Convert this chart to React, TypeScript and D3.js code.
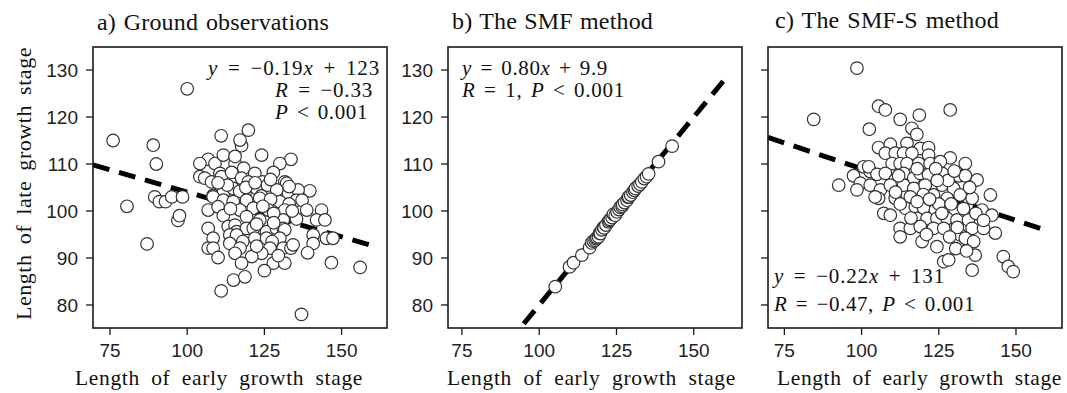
import React, { useLayoutEffect, useRef } from "react";
import * as d3 from "d3";

// Axis ticks shared by the three panels
const xTicks = [75, 100, 125, 150];
const yTicks = [80, 90, 100, 110, 120, 130];
const yDomain: [number, number] = [75.1, 134.9];

const panelTitles = ["a) Ground observations", "b) The SMF method", "c) The SMF-S method"];
const xAxisTitle = "Length of early growth stage";
const yAxisTitle = "Length of late growth stage";

// Ground observations: [early length, late length]
const groundPoints: [number, number][] = [
  [76, 115], [80.5, 101], [87, 93], [89, 114], [90, 110], [89.5, 103], [91, 102], [93, 102],
  [95, 103], [97, 98], [97.5, 99], [98.5, 103], [100, 126],
  [111, 116], [119.8, 117.2], [117.6, 113.9], [117.1, 115.1], [124.1, 111.9], [133.6, 111],
  [130, 110.1], [106.8, 111], [104.1, 110.1], [109, 110.1], [111.7, 111.9], [115.5, 110.1],
  [115.5, 111.6], [118.3, 109.1],
  [104.1, 107.3], [105.7, 107], [107.9, 106.2], [110.6, 108], [111.1, 107.3], [114.4, 108.2],
  [117.6, 107], [121.9, 108], [124.4, 106.2], [127.9, 108.2], [131.6, 106.2], [119.8, 106.2],
  [132.2, 105.9],
  [108.4, 103.3], [111.7, 103.8], [114.9, 104.8], [118.7, 103.8], [122.5, 104.8], [126.8, 103.8],
  [132.8, 103.8], [136, 104.3], [139.7, 104.3], [135.9, 104.5], [113, 105.5], [117, 104.2],
  [119, 105], [122, 106], [126, 105.5], [129, 104.5], [133, 105.2], [127, 106.7], [124, 103.2],
  [110, 106],
  [108.4, 103], [111.7, 102.3], [114.9, 102], [119.2, 102.3], [123.5, 102.7], [130, 102],
  [135.4, 102.3], [137.2, 102.3], [127, 102.5], [133, 101.5],
  [106.8, 100.2], [110, 100.9], [111.7, 99], [117.1, 100.2], [121.4, 100.6], [126.3, 100.2],
  [131.6, 100.2], [138.7, 100.2], [143.5, 100.2], [119.2, 98.8], [123.5, 98.1], [131.1, 98.1],
  [135.4, 98.3], [141.9, 98.1], [144.6, 98.1], [128, 99.5], [124.5, 101], [114, 100.5], [134, 100],
  [106.8, 96.3], [113.3, 96.7], [115.5, 97], [116, 95.6], [119.2, 96.3], [121.4, 96.3],
  [125.7, 95.6], [128.9, 96.3], [131.1, 96.3], [131.6, 96], [128, 97.5], [122.5, 97.2],
  [108.4, 94.2], [113.8, 94.9], [116, 94.9], [121.9, 94.2], [125.7, 94.2], [130, 94.2],
  [140.8, 94.9], [145.1, 94.2], [147.2, 94.2], [118, 93.5], [127.5, 93.5],
  [106.8, 92.1], [108.4, 92.1], [113.8, 93.1], [117.1, 92.1], [126.8, 92.1], [131.1, 92.1],
  [133.6, 92.1], [134.3, 92.8], [140.8, 93.1], [115.5, 91], [124.1, 91], [120.9, 90.3],
  [139, 91.1], [122.5, 92.5],
  [110, 90.1], [117.6, 88.9], [127.9, 88.9], [131.6, 88.9], [146.7, 89], [156, 88], [129.5, 90.5],
  [111, 83], [115, 85.3], [118.7, 86], [125, 87.3], [137, 78],
];

// SMF estimates
const smfPoints: [number, number][] = [
  [105.2, 83.9], [109.8, 88.1], [111.1, 89], [113.8, 90.6], [116.3, 92.2], [117, 93.2],
  [117.5, 93.6], [118.1, 93.8], [118.4, 94.1], [118.7, 94.3], [119.2, 94.5], [119.5, 95.3],
  [119.8, 95.2], [120.3, 96], [120.8, 96.5], [121, 96.4], [121.6, 97], [122.4, 97.7],
  [122.7, 98], [123, 98.2], [123.6, 98.6], [124, 99.3], [124.6, 99.1], [125.2, 99.8],
  [125.8, 100.3], [126.2, 100.8], [126.8, 101], [127, 101.4], [127.6, 101.8], [128.4, 102.3],
  [128.8, 102.9], [129, 103], [129.6, 103.4], [130.3, 104], [130.8, 104.4], [131.1, 104.8],
  [132, 105.3], [132.6, 105.7], [133.2, 106.2], [134, 106.9], [134.7, 107.3], [135.4, 107.9],
  [138.6, 110.5], [143, 113.8],
];

// SMF-S estimates
const smfsPoints: [number, number][] = [
  [98.5, 130.4], [84.5, 119.5], [105.5, 122.3], [107.7, 121.5], [112.5, 119.5], [118.7, 120.4],
  [128.7, 121.5], [102.5, 117.4], [116.3, 117.6], [117.9, 116.3], [92.6, 105.5],
  [105.5, 113.5], [109.3, 114.2], [114.7, 114.4], [119, 113.3], [121.7, 113.5],
  [107.7, 112.3], [110.9, 112.3], [113.6, 112.3], [116.3, 112.3], [121.7, 111.9], [128.7, 111.3],
  [133.6, 110.1], [109.9, 110.1], [112.5, 110.1], [114.7, 110.1], [118.5, 110.1], [122.2, 110.1],
  [125.5, 110.5],
  [100.7, 109.4], [102.8, 108.4], [102.3, 109.4], [97.4, 107.5], [99.6, 105.9], [105, 107.8],
  [107.7, 108], [110.9, 106.6], [113.6, 108], [116.9, 107], [119, 108], [121.7, 107.7],
  [126.1, 108], [131.5, 107.5], [133.6, 107.5], [137.4, 106.6],
  [98.5, 104.5], [102.8, 105.5], [106.1, 104.5], [109.3, 105.5], [113.6, 105.5], [116.9, 104.8],
  [120.6, 105.5], [126.1, 105.5], [129.8, 104.8], [135.8, 102.7], [141.7, 103.4],
  [105.5, 102.7], [110.9, 102.7], [115.8, 103], [123.3, 103.4], [127.7, 102.7], [131.9, 103.4],
  [104.4, 103],
  [107.2, 99.5], [109.3, 99.1], [114.2, 100.6], [117.4, 100.9], [120.1, 100.6], [123.9, 100.2],
  [127.1, 100.6], [130.3, 100.2], [139, 100.2], [142.2, 99.1],
  [117.9, 98.4], [121.2, 98.4], [124.4, 98.4], [127.7, 98.4], [130.9, 98.1], [134.6, 98.1],
  [112.5, 96.3], [115.8, 96.3], [119, 96.7], [123.3, 96.3], [126.6, 96.3], [135.8, 96.3],
  [139.5, 96.3], [143.3, 95.3],
  [112.5, 94.5], [119.6, 93.5], [124.4, 92.4], [132, 94.9], [133.6, 94.2], [136.3, 93.5],
  [126.6, 89.2], [128.2, 89.6], [136.8, 90.6], [135.8, 87.4], [145.9, 90.3], [147.5, 88.2],
  [149.1, 87.1],
  [112, 107.5], [118, 109], [124, 109], [128, 106.5], [120, 103.5], [125, 101.5], [129, 101.5],
  [133, 100.5], [137, 99.5], [118, 102], [122, 102.5], [112.5, 101.5], [111, 104], [126, 99.5],
  [131, 96.5], [128.5, 94.5], [121, 95], [116, 98.5], [124.5, 106.5], [130, 108.5], [135, 105],
  [139.5, 98], [130.5, 92], [134, 91.5],
];

// Fitted lines: slope, intercept and the x span they cover
const fitSlopes = [-0.19, 0.8, -0.22];
const fitIntercepts = [123, 0, 131];
const fitSpans: [number, number][] = [[69.5, 160], [95, 160.2], [69.7, 158.4]];

type Seg = [string, boolean];
interface EqLine { x: number; y: number; len: number; parts: Seg[] }

const MINUS = "\u2212";
const equations: EqLine[][] = [
  [
    { x: 208, y: 75, len: 172, parts: [["y", true], [" = " + MINUS + "0.19", false], ["x", true], [" + 123", false]] },
    { x: 275, y: 97, len: 98, parts: [["R", true], [" = " + MINUS + "0.33", false]] },
    { x: 275, y: 119, len: 93, parts: [["P", true], [" < 0.001", false]] },
  ],
  [
    { x: 462, y: 75, len: 146, parts: [["y", true], [" = 0.80", false], ["x", true], [" + 9.9", false]] },
    { x: 462, y: 97, len: 163, parts: [["R", true], [" = 1, ", false], ["P", true], [" < 0.001", false]] },
  ],
  [
    { x: 774, y: 283, len: 171, parts: [["y", true], [" = " + MINUS + "0.22", false], ["x", true], [" + 131", false]] },
    { x: 774, y: 311, len: 201, parts: [["R", true], [" = " + MINUS + "0.47, ", false], ["P", true], [" < 0.001", false]] },
  ],
];

const panelLefts = [93, 448, 768];
const panelWidth = 294;
const plotTop = 47;
const plotBottom = 328;
const xDomains: [number, number][] = [[69.5, 164.7], [70.5, 165.6], [69.7, 164.9]];
const titleBoxes = [
  { x: 97, len: 232, y: 30 },
  { x: 452, len: 201, y: 29 },
  { x: 775, len: 224, y: 28 },
];
const xTitleBoxes = [
  { x: 75, len: 288 },
  { x: 447, len: 289 },
  { x: 777, len: 285 },
];

const serif = "'Liberation Serif', 'Times New Roman', serif";
const sans = "'Liberation Sans', Arial, sans-serif";
const ink = "#1a1a1a";

// Text stretched to a given width: half the slack goes between letters, half between words
function SpacedText(props: {
  x?: number; y?: number; width: number; size: number; transform?: string;
  anchor?: string; children: React.ReactNode;
}) {
  const ref = useRef<SVGTextElement>(null);
  useLayoutEffect(() => {
    const el = ref.current;
    if (!el) return;
    el.style.wordSpacing = "0px";
    el.style.letterSpacing = "0px";
    const natural = el.getComputedTextLength();
    const txt = el.textContent || "";
    const gaps = txt.split(" ").length - 1;
    const extra = props.width - natural;
    if (extra <= 0) return;
    const ls = (extra * 0.45) / Math.max(1, txt.length - 1);
    el.style.letterSpacing = `${ls}px`;
    const after = el.getComputedTextLength();
    if (gaps > 0) el.style.wordSpacing = `${(props.width - after) / gaps}px`;
  });
  return (
    <text
      ref={ref}
      x={props.x}
      y={props.y}
      transform={props.transform}
      textAnchor={props.anchor || "start"}
      fontFamily={serif}
      fontSize={props.size}
      fill="#111"
    >
      {props.children}
    </text>
  );
}

function Panel({ idx, points }: { idx: number; points: [number, number][] }) {
  const left = panelLefts[idx];
  const x = d3.scaleLinear().domain(xDomains[idx]).range([left, left + panelWidth]);
  const y = d3.scaleLinear().domain(yDomain).range([plotBottom, plotTop]);
  const [x0, x1] = fitSpans[idx];
  const f = (v: number) => fitSlopes[idx] * v + fitIntercepts[idx];
  const fitPath = d3.line<number>().x((v) => x(v)).y((v) => y(f(v)))([x0, x1]) || "";
  const tb = titleBoxes[idx];
  const xt = xTitleBoxes[idx];

  return (
    <g>
      <SpacedText x={tb.x} y={tb.y} width={tb.len} size={24}>
        {panelTitles[idx]}
      </SpacedText>

      <path d={fitPath} stroke="#000" strokeWidth={5} strokeDasharray="17,10" fill="none" />

      {points.map(([px, py], i) => (
        <circle key={i} cx={x(px)} cy={y(py)} r={6.3} fill="#fff" stroke="#333" strokeWidth={1.2} />
      ))}

      <rect x={left} y={plotTop} width={panelWidth} height={plotBottom - plotTop} fill="none" stroke={ink} strokeWidth={1.6} />

      {yTicks.map((t) => (
        <g key={"y" + t}>
          <line x1={left - 7} x2={left} y1={y(t)} y2={y(t)} stroke={ink} strokeWidth={1.3} />
          {idx < 2 && (
            <text x={left - 15} y={y(t) + 7} textAnchor="end" fontFamily={sans} fontSize={19} fill="#222">
              {t}
            </text>
          )}
        </g>
      ))}
      {xTicks.map((t) => (
        <g key={"x" + t}>
          <line x1={x(t)} x2={x(t)} y1={plotBottom} y2={plotBottom + 7} stroke={ink} strokeWidth={1.3} />
          <text x={x(t)} y={357} textAnchor="middle" fontFamily={sans} fontSize={19} fill="#222">
            {t}
          </text>
        </g>
      ))}

      <SpacedText x={xt.x} y={385} width={xt.len} size={21.5}>
        {xAxisTitle}
      </SpacedText>

      {equations[idx].map((eq, i) => (
        <SpacedText key={i} x={eq.x} y={eq.y} width={eq.len} size={21}>
          {eq.parts.map(([s, it], j) => (
            <tspan key={j} fontStyle={it ? "italic" : "normal"}>{s}</tspan>
          ))}
        </SpacedText>
      ))}
    </g>
  );
}

export default function App() {
  return (
    <svg
      width={1067}
      height={393}
      viewBox="0 0 1067 393"
      style={{ position: "absolute", left: 0, top: 0, background: "#fff" }}
    >
      <rect width={1067} height={393} fill="#fff" />
      <SpacedText transform="translate(31,183.5) rotate(-90)" anchor="middle" width={273} size={22}>
        {yAxisTitle}
      </SpacedText>
      <Panel idx={0} points={groundPoints} />
      <Panel idx={1} points={smfPoints} />
      <Panel idx={2} points={smfsPoints} />
    </svg>
  );
}
